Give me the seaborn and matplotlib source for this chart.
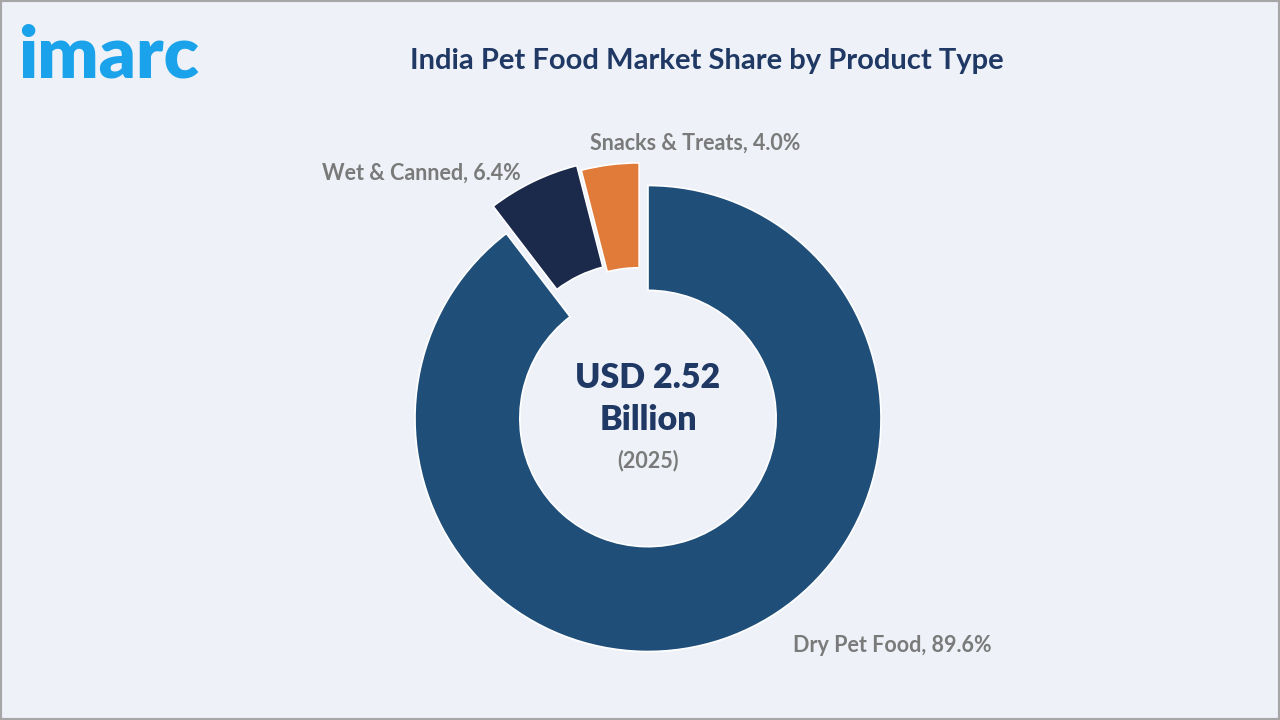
import matplotlib
matplotlib.use("Agg")
import matplotlib.pyplot as plt
import seaborn as sns
from matplotlib.patches import Rectangle

# ---- data ----
categories = ["Dry Pet Food", "Wet & Canned", "Snacks & Treats"]
shares = [89.6, 6.4, 4.0]
colors = ["#1f4e79", "#1b2a4b", "#e07b39"]
explode = [0.0, 0.13, 0.10]
title = "India Pet Food Market Share by Product Type"
center_value = "USD 2.52"
center_unit = "Billion"
center_year = "(2025)"

sns.set_theme(style="white")
plt.rcParams["font.family"] = ["Lato", "DejaVu Sans"]

BG = "#eef2f8"
fig = plt.figure(figsize=(12.8, 7.2), dpi=100, facecolor=BG)
ax = fig.add_axes([0, 0, 1, 1])
ax.set_facecolor(BG)

wedges, _ = ax.pie(
    shares, colors=colors, startangle=90, counterclock=False,
    explode=explode, radius=1.0,
    wedgeprops=dict(width=0.45, edgecolor="white", linewidth=1.2),
)

# pixel geometry: center (648, 418.5), radius 233 px
s = 233.0
cx, cy = 648.0, 418.5
ax.set_xlim(-cx / s, (1280 - cx) / s)
ax.set_ylim(-(720 - cy) / s, cy / s)
ax.set_aspect("auto")
ax.axis("off")

# nudge the snacks wedge slightly left as in the reference
wedges[2].set_center((-0.038, 0.097))

def px(x, y):
    return ((x - cx) / s, (cy - y) / s)

label_color = "#7a7a7a"
lab_fs = 15.5
x, y = px(695, 143)
ax.text(x, y, f"{categories[2]}, {shares[2]:.1f}%", ha="center", va="center",
        fontsize=lab_fs, color=label_color, fontweight="bold")
x, y = px(521, 173)
ax.text(x, y, f"{categories[1]}, {shares[1]:.1f}%", ha="right", va="center",
        fontsize=lab_fs, color=label_color, fontweight="bold")
x, y = px(793, 645)
ax.text(x, y, f"{categories[0]}, {shares[0]:.1f}%", ha="left", va="center",
        fontsize=lab_fs, color=label_color, fontweight="bold")

# center text
navy = "#1f3864"
x, y = px(648, 378)
ax.text(x, y, center_value, ha="center", va="center", fontsize=24.5,
        fontweight="heavy", color=navy)
x, y = px(648, 420)
ax.text(x, y, center_unit, ha="center", va="center", fontsize=24.5,
        fontweight="heavy", color=navy)
x, y = px(648, 461)
ax.text(x, y, center_year, ha="center", va="center", fontsize=15.5,
        fontweight="bold", color=label_color)

# title
fig.text(707 / 1280, 1 - 61 / 720, title, ha="center", va="center",
         fontsize=21, fontweight="bold", color=navy)

# logo
fig.text(18 / 1280, 1 - 56 / 720, "imarc", ha="left", va="center",
         fontsize=52, fontweight="heavy", color="#1aa3ea")

# frame
fig.patches.append(Rectangle((0, 0), 1, 1, transform=fig.transFigure,
                             fill=False, edgecolor="#a6a6a6", linewidth=3))

fig.savefig("out.png", dpi=100, facecolor=BG)
